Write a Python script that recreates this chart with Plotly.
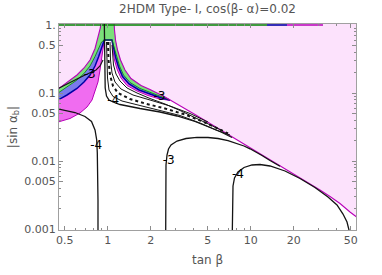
import plotly.graph_objects as go

# ---------------- data (tan beta, |sin alpha_b|) ----------------
# left-side band boundaries (outer -> inner)
L0_t = [0.45, 0.5193, 0.6097, 0.6826, 0.7522, 0.8153, 0.8594, 0.8877, 0.8977]
L0_s = [0.1145, 0.1427, 0.1839, 0.2331, 0.3057, 0.4512, 0.6729, 0.9035, 1.107]
L1_t = [0.45, 0.5193, 0.6097, 0.6826, 0.7522, 0.8153, 0.8624, 0.9050, 0.9467]
L1_s = [0.1, 0.1225, 0.1553, 0.1935, 0.2495, 0.3441, 0.4590, 0.5623, 0.6017]
L2_t = [0.45, 0.5193, 0.6097, 0.6826, 0.7522, 0.8153, 0.8624, 0.8977, 0.9271, 0.9467]
L2_s = [0.0789, 0.09346, 0.1165, 0.1451, 0.1839, 0.2495, 0.3384, 0.4437, 0.5435, 0.6017]
L3_t = [0.45, 0.5449, 0.6401, 0.7167, 0.7769, 0.8153, 0.8552, 0.8834, 0.9050, 0.9271, 0.9467]
L3_s = [0.03745, 0.04217, 0.05080, 0.06223, 0.0789, 0.1034, 0.1451, 0.2179, 0.3271, 0.4747, 0.6017]

# right-side boundaries; R0 is the edge of the excluded (pink) region
R0_t = [1.1068, 1.1158, 1.1339, 1.1710, 1.2288, 1.3211, 1.4554, 1.7098, 1.9761, 2.5159,
        2.7277, 3.2037, 4.0785, 5.1927, 6.1000, 7.1654, 8.4180, 9.8878, 11.616, 13.646,
        16.029, 18.831, 22.123, 25.983, 30.517, 35.861, 42.121, 49.477, 54.509, 60.02]
R0_s = [1.107, 0.8443, 0.6017, 0.4288, 0.3057, 0.2179, 0.1634, 0.1289, 0.1126, 0.08734,
        0.07943, 0.06548, 0.04828, 0.03560, 0.02905, 0.02371, 0.01935, 0.01580, 0.01289, 0.01052,
        0.008587, 0.007013, 0.005718, 0.004668, 0.003746, 0.003005, 0.002371, 0.001778, 0.001517, 0.001311]
R0_JOIN = 10
R1_t = [1.0717, 1.1068, 1.1523, 1.2093, 1.2897, 1.4322, 1.6825, 1.9761, 2.3210, 2.7277]
R1_s = [0.6017, 0.4747, 0.3384, 0.2495, 0.1839, 0.1427, 0.1165, 0.1017, 0.08883, 0.0789]
R2_t = [1.0717, 1.0979, 1.1339, 1.1900, 1.2691, 1.4092, 1.6557, 1.9761, 2.3210, 2.7277]
R2_s = [0.6017, 0.4590, 0.3384, 0.2412, 0.1748, 0.1356, 0.1107, 0.09667, 0.08587, 0.0789]
R3_t = [1.0717, 1.0856, 1.1158, 1.1616, 1.2388, 1.3644, 1.6032, 1.9135, 2.2475, 2.7277]
R3_s = [0.6017, 0.4288, 0.3057, 0.2254, 0.1662, 0.1289, 0.1070, 0.09188, 0.08301, 0.07758]

# boundary segments along |sin alpha_b| = 1
top_green_t = [0.45, 13.0]
top_blue_t = [13.0, 17.94]
top_mag_t = [17.94, 32.03]

# contour lines
C3_left_t = [0.45, 0.5449, 0.6196, 0.6718, 0.8285, 0.8834, 0.9271]
C3_left_s = [0.1165, 0.1403, 0.1634, 0.1778, 0.2179, 0.2495, 0.3057]
C4_left_t = [0.45, 0.5905, 0.6937, 0.7705, 0.8153, 0.8377, 0.8459, 0.8513, 0.8552, 0.8552]
C4_left_s = [0.05815, 0.05166, 0.04512, 0.03810, 0.02857, 0.02036, 0.01311, 0.008160, 0.002670, 0.000903]
C3_mid_t = [2.5444, 2.5444, 2.5567, 2.5983, 2.6618, 2.7714, 3.0524, 3.5287, 4.2121, 5.0281,
            5.9065, 6.9385, 7.8928, 8.9770, 9.8878, 10.891, 11.997, 13.646, 16.029]
C3_mid_s = [0.000903, 0.003746, 0.008734, 0.01225, 0.01502, 0.01719, 0.01968, 0.02142, 0.02231, 0.02216,
            0.02142, 0.02001, 0.01839, 0.01662, 0.01512, 0.01356, 0.01205, 0.01017, 0.008357]
C4_right_t = [7.4362, 7.4482, 7.5204, 7.7044, 8.1510, 8.9770, 10.212, 11.616, 13.646, 17.372,
              22.123, 28.155, 34.723, 40.130, 44.212, 47.155, 48.697, 49.08]
C4_right_s = [0.000903, 0.002670, 0.004289, 0.005623, 0.006891, 0.008025, 0.008734, 0.008880, 0.008443, 0.007127,
              0.005529, 0.004077, 0.002955, 0.002254, 0.001661, 0.001267, 0.001, 0.000903]
B_low_t = [0.9467, 0.9483, 0.9528, 0.9605, 0.9809, 1.0212, 1.0891, 1.2189, 1.6825, 2.3210,
           3.0524, 4.0785, 5.1927, 6.3000, 7.4003]
B_low_s = [1.107, 0.5081, 0.2179, 0.1184, 0.09035, 0.0789, 0.07372, 0.06775, 0.05915, 0.05254,
           0.04589, 0.03810, 0.03109, 0.02625, 0.02216]
B_up_t = [1.0717, 1.0803, 1.0979, 1.1430, 1.2189, 1.3644, 1.6032, 1.9761, 2.5159, 3.2037,
          4.0785, 5.1927, 6.3000]
B_up_s = [0.5081, 0.3621, 0.2581, 0.1903, 0.1501, 0.1184, 0.1, 0.08301, 0.06891, 0.05529,
          0.04361, 0.03441, 0.02809]
B_m1_t = [1.0048, 1.0130, 1.0377, 1.0891, 1.1804, 1.4322, 1.8236, 2.5159, 3.4723, 4.7911, 6.1000, 6.9385]
B_m1_s = [0.5623, 0.3057, 0.1839, 0.1267, 0.1, 0.08162, 0.07007, 0.05915, 0.04828, 0.03682, 0.02905, 0.02538]
B_m2_t = [0.9809, 0.9856, 0.9968, 1.0212, 1.0891, 1.2589, 1.6825, 2.3210, 3.2037, 4.4212, 5.6278, 7.1654]
B_m2_s = [0.5623, 0.3057, 0.1662, 0.1107, 0.08883, 0.07627, 0.06548, 0.05623, 0.04668, 0.03622, 0.02905, 0.02412]
B_m3_t = [1.0377, 1.0461, 1.0717, 1.1247, 1.2388, 1.5030, 1.9761, 2.7277, 3.7631, 5.0281]
B_m3_s = [0.5623, 0.3057, 0.1968, 0.1451, 0.1145, 0.09346, 0.0789, 0.06437, 0.04995, 0.03745]

# contour labels
lab_t = [0.748, 2.303, 1.094, 0.831, 2.67, 8.15]
lab_s = [0.184, 0.0882, 0.0768, 0.0165, 0.0099, 0.00629]
lab_txt = ["-3", "-3", "-4", "-4", "-3", "-4"]

# axis ticks
x_major = [0.5, 1, 2, 5, 10, 20, 50]
x_major_txt = ["0.5", "1", "2", "5", "10", "20", "50"]
x_minor = [0.6, 0.7, 0.8, 0.9, 3, 4, 6, 7, 8, 9, 30, 40]
y_major = [0.001, 0.005, 0.01, 0.05, 0.1, 0.5, 1]
y_major_txt = ["0.001", "0.005", "0.01", "0.05", "0.1", "0.5", "1."]
y_minor = [0.002, 0.003, 0.004, 0.006, 0.007, 0.008, 0.009, 0.02, 0.03, 0.04,
           0.06, 0.07, 0.08, 0.09, 0.2, 0.3, 0.4, 0.6, 0.7, 0.8, 0.9]

# ---------------- colours ----------------
PINK = "rgb(252,226,252)"
MAG_FILL = "rgb(240,108,240)"
BLUE_FILL = "rgb(122,122,236)"
GREEN_FILL = "rgb(122,224,122)"
MAG_LINE = "rgb(185,0,185)"
BLUE_LINE = "rgb(0,0,165)"
GREEN_LINE = "rgb(0,130,0)"
BLACK = "rgb(20,20,20)"
TXT = "rgb(85,85,85)"
FONT = "DejaVu Sans"

fig = go.Figure()


def band(lt, ls, rt, rs):
    xs = list(lt) + list(rt) + R0_t[R0_JOIN::-1] + L0_t[::-1]
    ys = list(ls) + list(rs) + R0_s[R0_JOIN::-1] + L0_s[::-1]
    return xs, ys


def add_fill(xs, ys, color):
    fig.add_trace(go.Scatter(x=xs, y=ys, mode="lines", fill="toself", fillcolor=color,
                             line=dict(width=0, color=color), hoverinfo="skip", showlegend=False))


def add_line(xs, ys, color, width=1.2, dash="solid"):
    fig.add_trace(go.Scatter(x=xs, y=ys, mode="lines", line=dict(color=color, width=width, dash=dash),
                             hoverinfo="skip", showlegend=False))


# excluded (pink) region
add_fill([L0_t[0]] + L0_t + R0_t + [R0_t[-1]], [1.107] + L0_s + R0_s + [1.107], PINK)
# bands
xs, ys = band(L3_t, L3_s, R3_t, R3_s)
add_fill(xs, ys, MAG_FILL)
xs, ys = band(L2_t, L2_s, R2_t, R2_s)
add_fill(xs, ys, BLUE_FILL)
xs, ys = band(L1_t, L1_s, R1_t, R1_s)
add_fill(xs, ys, GREEN_FILL)

# band edges
add_line(L3_t + R3_t, L3_s + R3_s, MAG_LINE, 1.0)
add_line(L2_t + R2_t, L2_s + R2_s, BLUE_LINE, 1.5)
add_line(L1_t + R1_t, L1_s + R1_s, GREEN_LINE, 0.8)
add_line(L0_t + R0_t, L0_s + R0_s, MAG_LINE, 1.1)
add_line(top_green_t, [1, 1], GREEN_LINE, 1.6)
add_line(top_blue_t, [1, 1], BLUE_LINE, 1.6)
add_line(top_mag_t, [1, 1], MAG_LINE, 1.6)

# contours
add_line(C3_left_t, C3_left_s, BLACK, 1.1)
add_line(C4_left_t, C4_left_s, BLACK, 1.3)
add_line(C3_mid_t, C3_mid_s, BLACK, 1.3)
add_line(C4_right_t, C4_right_s, BLACK, 1.3)
add_line(B_low_t, B_low_s, BLACK, 1.3)
add_line(B_up_t, B_up_s, BLACK, 1.0)
add_line(B_m1_t, B_m1_s, BLACK, 2.0, "dot")
add_line(B_m2_t, B_m2_s, BLACK, 1.0)
add_line(B_m3_t, B_m3_s, BLACK, 1.0)

fig.add_trace(go.Scatter(x=lab_t, y=lab_s, mode="text", text=lab_txt,
                         textfont=dict(family=FONT, size=12, color="black"),
                         hoverinfo="skip", showlegend=False))

axis_common = dict(
    type="log", showgrid=False, zeroline=False, showline=True, linecolor="rgb(160,160,160)",
    linewidth=1, mirror="allticks", ticks="inside", ticklen=4, tickwidth=1, tickcolor="rgb(140,140,140)",
    tickfont=dict(family=FONT, size=11, color=TXT), tickmode="array", automargin=False,
)

fig.update_layout(
    width=382, height=275,
    margin=dict(l=59, r=26, t=24, b=45, pad=0, autoexpand=False),
    paper_bgcolor="white", plot_bgcolor="white",
    hovermode=False,
    title=dict(text="2HDM Type- I, cos(β- α)=0.02", x=0.5, xref="paper", xanchor="center",
               y=1 - 8.5 / 275, yref="container", yanchor="middle", automargin=False,
               font=dict(family=FONT, size=12, color=TXT)),
    xaxis=dict(axis_common, range=[-0.3406, 1.7364], tickvals=x_major, ticktext=x_major_txt,
               minor=dict(tickvals=x_minor, ticks="inside", ticklen=2, tickcolor="rgb(140,140,140)"),
               title=dict(text="tan β", font=dict(family=FONT, size=12, color=TXT), standoff=9)),
    yaxis=dict(axis_common, range=[-3.0147, 0.0147], tickvals=y_major, ticktext=y_major_txt,
               minor=dict(tickvals=y_minor, ticks="inside", ticklen=2, tickcolor="rgb(140,140,140)"),
               title=dict(text="|sin α<sub>b</sub>|", font=dict(family=FONT, size=12, color=TXT), standoff=4)),
)

fig.write_html("out.html", config={"displayModeBar": False, "staticPlot": True},
               post_script="document.body.style.margin='0px';")
